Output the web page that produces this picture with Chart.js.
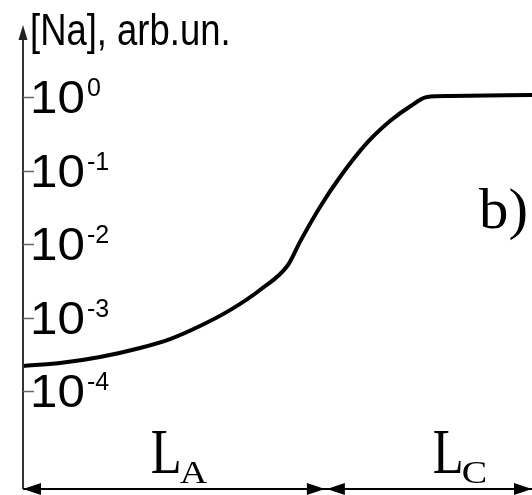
<!DOCTYPE html>
<html>
<head>
<meta charset="utf-8">
<script src="https://cdn.jsdelivr.net/npm/chart.js@4"></script>
<style>
  html, body { margin: 0; padding: 0; background: #fff; }
  #naChart { display: block; }
</style>
</head>
<body>
<canvas id="naChart" width="532" height="495"></canvas>
<script>
// depth profile of sodium, arbitrary units on both axes
const depth = [0, 7.27, 15.13, 22.99, 28.88, 34.77, 40.67, 46.56, 52.06, 54.42, 58.35, 62.28, 67.58, 72.10, 76.03, 79.37, 83.89, 100];
const naLevel = [2.19e-4, 2.40e-4, 2.90e-4, 3.85e-4, 5.09e-4, 7.66e-4, 1.26e-3, 2.37e-3, 5.18e-3, 1.07e-2, 3.19e-2, 8.16e-2, 0.237, 0.471, 0.743, 1.0, 1.03, 1.065];

// log axis ticks and their exponents
const tickValues = [1, 0.1, 0.01, 0.001, 0.0001];
const tickExponents = ['0', '-1', '-2', '-3', '-4'];

// regions along the depth axis: boundaries and subscripts
const regionBounds = [0, 59.5, 100];
const regionNames = ['A', 'C'];
const regionLabelAt = [25.1, 80.5];

const SANS = '"Liberation Sans", Arial, sans-serif';
const SERIF = '"Liberation Serif", "Times New Roman", serif';

function text(ctx, str, x, y, font, sx) {
  ctx.save();
  ctx.font = font;
  ctx.translate(x, y);
  ctx.scale(sx || 1, 1);
  ctx.fillText(str, 0, 0);
  const w = ctx.measureText(str).width * (sx || 1);
  ctx.restore();
  return w;
}

function arrowHead(ctx, tipX, tipY, dx, dy, len, half) {
  // dx, dy: unit direction the arrow points to
  const bx = tipX - dx * len, by = tipY - dy * len;
  ctx.beginPath();
  ctx.moveTo(tipX, tipY);
  ctx.lineTo(bx - dy * half, by + dx * half);
  ctx.lineTo(bx + dy * half, by - dx * half);
  ctx.closePath();
  ctx.fill();
}

const axesAndLabels = {
  id: 'axesAndLabels',
  afterDraw(chart) {
    const ctx = chart.ctx;
    const x = chart.scales.x, y = chart.scales.y;
    const area = chart.chartArea;
    const x0 = area.left;
    const yBase = area.bottom;

    ctx.save();
    ctx.fillStyle = '#000';
    ctx.textBaseline = 'alphabetic';
    ctx.textAlign = 'left';

    // vertical axis with arrow
    ctx.strokeStyle = '#333';
    ctx.lineWidth = 2;
    ctx.beginPath();
    ctx.moveTo(x0, yBase);
    ctx.lineTo(x0, area.top + 10);
    ctx.stroke();
    ctx.fillStyle = '#222';
    arrowHead(ctx, x0, area.top, 0, -1, 15, 4.5);

    // tick marks and labels
    ctx.strokeStyle = '#666';
    ctx.lineWidth = 1.5;
    ctx.fillStyle = '#000';
    tickValues.forEach((v, i) => {
      const py = Math.round(y.getPixelForValue(v)) + 0.5;
      ctx.beginPath();
      ctx.moveTo(x0, py);
      ctx.lineTo(x0 + 11, py);
      ctx.stroke();
      const w = text(ctx, '10', x0 + 7, py + 15, '47px ' + SANS, 1.05);
      text(ctx, tickExponents[i], x0 + 7 + w + 2, py - 2, '25px ' + SANS, 1);
    });

    // axis title
    text(ctx, '[Na], arb.un.', x0 + 7, 45, '45px ' + SANS, 0.81);

    // panel letter
    text(ctx, 'b)', 479, 228, '56px ' + SERIF, 1.05);

    // region arrows along the bottom
    ctx.strokeStyle = '#000';
    ctx.lineWidth = 2;
    ctx.beginPath();
    ctx.moveTo(x0, yBase);
    ctx.lineTo(area.right, yBase);
    ctx.stroke();
    for (let i = 0; i < regionNames.length; i++) {
      const a = x.getPixelForValue(regionBounds[i]);
      const b = x.getPixelForValue(regionBounds[i + 1]);
      arrowHead(ctx, a + (i ? 1 : 0), yBase, -1, 0, 18, 6);
      arrowHead(ctx, b - (i ? 0 : 1), yBase, 1, 0, 18, 6);
      const lx = x.getPixelForValue(regionLabelAt[i]);
      const wl = text(ctx, 'L', lx, 473, '64px ' + SERIF, 0.79);
      text(ctx, regionNames[i], lx + wl - 2, 483, '32px ' + SERIF, 1.19);
    }
    ctx.restore();
  }
};

new Chart(document.getElementById('naChart').getContext('2d'), {
  type: 'line',
  data: {
    datasets: [{
      data: depth.map((d, i) => ({ x: d, y: naLevel[i] })),
      borderColor: '#000',
      borderWidth: 4,
      pointRadius: 0,
      fill: false,
      cubicInterpolationMode: 'monotone',
      clip: false
    }]
  },
  options: {
    responsive: false,
    animation: false,
    devicePixelRatio: 1,
    layout: { padding: { left: 23, top: 25, right: 0, bottom: 6 } },
    scales: {
      x: { type: 'linear', display: false, min: 0, max: 100 },
      y: {
        type: 'logarithmic',
        display: false,
        min: Math.pow(10, -392 / 73.5),
        max: Math.pow(10, 72 / 73.5)
      }
    },
    plugins: {
      legend: { display: false },
      tooltip: { enabled: false }
    }
  },
  plugins: [axesAndLabels]
});
</script>
</body>
</html>
